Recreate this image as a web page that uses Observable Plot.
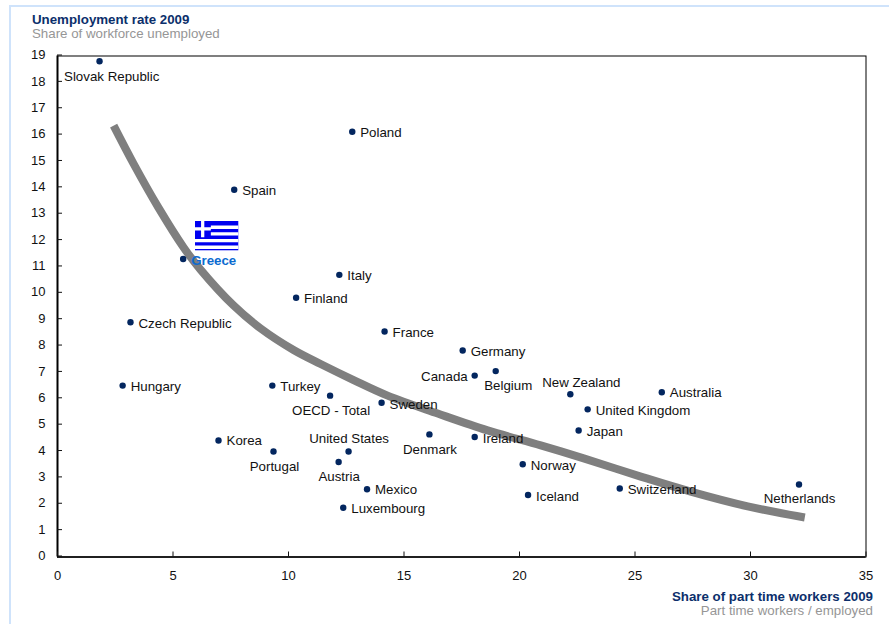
<!DOCTYPE html>
<html>
<head>
<meta charset="utf-8">
<script src="https://cdn.jsdelivr.net/npm/d3@7"></script>
<script src="https://cdn.jsdelivr.net/npm/@observablehq/plot@0.6"></script>
<style>
  html, body { margin: 0; padding: 0; background: #fff; }
  body { font-family: "Liberation Sans", Arial, sans-serif; }
  #page { position: relative; width: 889px; height: 624px; overflow: hidden; }
  #edge { position: absolute; left: 9px; top: 5px; right: 0; bottom: 0;
          border-left: 2.5px solid #cfe3fb; border-top: 2.5px solid #cfe3fb; }
  #heading { position: absolute; left: 32px; top: 13px; line-height: 14px; }
  #chart { position: absolute; left: 0; top: 42px; }
  #footer { position: absolute; right: 16px; top: 590px; text-align: right; line-height: 14px; }
  .main { font-weight: bold; color: #0c2f6b; font-size: 13.3px; }
  .sub { color: #969696; font-size: 13.3px; }
  svg { display: block; }
</style>
</head>
<body>
<div id="page">
  <div id="edge"></div>
  <div id="heading">
    <div class="main">Unemployment rate 2009</div>
    <div class="sub">Share of workforce unemployed</div>
  </div>
  <div id="chart"></div>
  <div id="footer">
    <div class="main">Share of part time workers 2009</div>
    <div class="sub">Part time workers / employed</div>
  </div>
</div>
<script>
// Countries with part-time share (%) and unemployment rate (%), 2009
const countries = ["Slovak Republic","Poland","Spain","Greece","Italy","Finland","Czech Republic","France","Germany","Canada","Belgium","New Zealand","Australia","United Kingdom","Japan","Hungary","Turkey","OECD - Total","Sweden","Korea","Portugal","United States","Austria","Denmark","Ireland","Norway","Iceland","Switzerland","Netherlands","Mexico","Luxembourg"];
const partTime = [1.82,12.76,7.65,5.44,12.2,10.33,3.16,14.16,17.54,18.06,18.97,22.2,26.16,22.95,22.56,2.82,9.3,11.8,14.03,6.97,9.35,12.6,12.17,16.1,18.06,20.14,20.37,24.34,32.1,13.4,12.37];
const unemployment = [18.8,16.13,13.93,11.3,10.7,9.83,8.9,8.55,7.83,6.88,7.05,6.17,6.25,5.6,4.8,6.5,6.5,6.12,5.85,4.42,4.0,4.0,3.6,4.65,4.55,3.52,2.35,2.6,2.75,2.57,1.87];

// Trend curve through the cloud
const trendX = [2.43,3.29,4.37,5.46,6.19,7.62,8.79,10.22,11.39,12.82,14.29,16.46,18.62,20.92,22.78,25.25,27.41,29.88,32.35];
const trendY = [16.36,14.92,13.25,11.74,10.90,9.54,8.67,7.85,7.32,6.71,6.12,5.44,4.80,4.23,3.74,3.05,2.48,1.92,1.50];

const xTicks = [0,5,10,15,20,25,30,35];
const yTicks = d3.range(0, 20);

// Labels that do not sit to the right of their dot: anchor, dx, dy
const labelPlacement = {
  "Slovak Republic": ["start", -35.5, 15.5],
  "Greece": ["start", 8, 1.5],
  "Italy": ["start", 8, 0.5],
  "Finland": ["start", 8, 0.5],
  "Korea": ["start", 8, 0.5],
  "Mexico": ["start", 8, 0.5],
  "Australia": ["start", 8, 0.5],
  "Canada": ["end", -7, 1],
  "Belgium": ["middle", 12.5, 15],
  "New Zealand": ["middle", 11, -11.5],
  "OECD - Total": ["middle", 1, 15.5],
  "United States": ["middle", 0.5, -12.5],
  "Portugal": ["middle", 1, 15.5],
  "Austria": ["middle", 0.5, 15],
  "Denmark": ["middle", 0.5, 15],
  "Netherlands": ["middle", 0.5, 14.5]
};

const points = countries.map((name, i) => ({name, x: partTime[i], y: unemployment[i]}));
const trend = trendX.map((x, i) => ({x, y: trendY[i]}));

// Greek flag shown beside its label
const flag = "data:image/svg+xml;utf8," + encodeURIComponent(
  '<svg xmlns="http://www.w3.org/2000/svg" viewBox="0 0 27 18" preserveAspectRatio="none">' +
  '<rect width="27" height="18" fill="#0000f0"/>' +
  '<path d="M10 3h17v2H10zM10 7h17v2H10zM0 11h27v2H0zM0 15h27v2H0zM4 0h2v10H4zM0 4h10v2H0z" fill="#fff"/></svg>');

const labelMarks = points.map(d => {
  const [textAnchor, dx, dy] = labelPlacement[d.name] ?? ["start", 8, 1.5];
  const highlighted = d.name === "Greece";
  return Plot.text([d], {
    x: "x", y: "y", text: "name", textAnchor, dx, dy,
    fill: highlighted ? "#0b6bd0" : "#111",
    fontWeight: highlighted ? "bold" : "normal"
  });
});

const chart = Plot.plot({
  width: 889,
  height: 548,
  marginTop: 13.5,
  marginBottom: 33.5,
  marginLeft: 57,
  marginRight: 23.5,
  style: {fontFamily: '"Liberation Sans", Arial, sans-serif', fontSize: "13.3px", color: "#111", background: "transparent"},
  x: {domain: [0, 35]},
  y: {domain: [0, 19]},
  marks: [
    Plot.line(trend, {x: "x", y: "y", stroke: "#7f7f7f", strokeWidth: 8, curve: "catmull-rom", strokeLinecap: "butt", strokeLinejoin: "round"}),
    Plot.frame({stroke: "#000", strokeWidth: 1}),
    Plot.ruleX([0], {stroke: "#000", strokeWidth: 2}),
    Plot.ruleY([0], {stroke: "#000", strokeWidth: 1.4}),
    Plot.axisX({ticks: xTicks, tickSize: -5, tickPadding: 19, tickFormat: d3.format("d"), label: null, fontSize: 13}),
    Plot.axisY({ticks: yTicks, tickSize: -5, tickPadding: 17, tickFormat: d3.format("d"), label: null, fontSize: 13, dy: -1}),
    Plot.image([{x: 6.885, y: 12.19}], {x: "x", y: "y", src: () => flag, width: 44, height: 30, preserveAspectRatio: "none"}),
    Plot.dot(points, {x: "x", y: "y", r: 3.2, fill: "#03265f"}),
    ...labelMarks
  ]
});
document.getElementById("chart").append(chart);
</script>
</body>
</html>
